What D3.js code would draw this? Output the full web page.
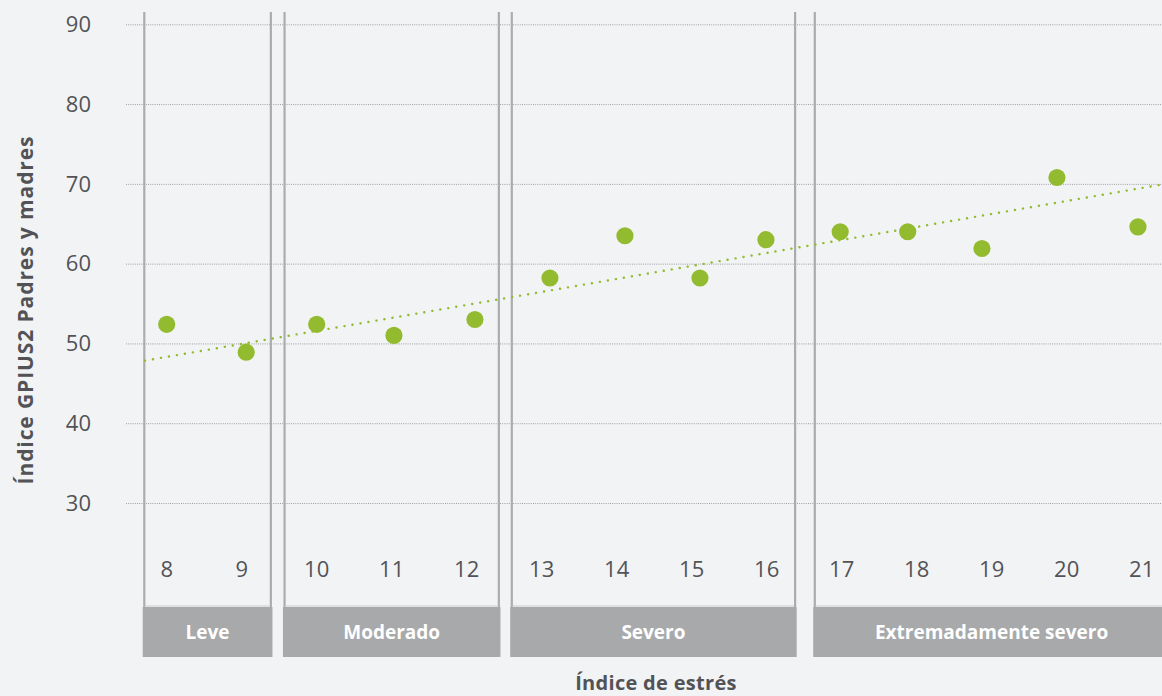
<!DOCTYPE html>
<html>
<head>
<meta charset="utf-8">
<script src="https://cdn.jsdelivr.net/npm/d3@7/dist/d3.min.js"></script>
<style>
  html, body { margin: 0; padding: 0; background: #f2f3f5; }
  svg { display: block; }
  text { font-family: "Open Sans", "Noto Sans", sans-serif; }
</style>
</head>
<body>
<svg id="chart" width="1162" height="696"></svg>
<script>
// ---- Data ----
const stressIndex = [8, 9, 10, 11, 12, 13, 14, 15, 16, 17, 18, 19, 20, 21];
// x positions of the points as plotted (slightly offset from the category ticks)
const pointX = [8.0, 9.06, 10.0, 11.03, 12.11, 13.11, 14.11, 15.11, 15.99, 16.98, 17.88, 18.87, 19.87, 20.95];
const gpiusValues = [52.4, 48.9, 52.4, 51.0, 53.0, 58.2, 63.5, 58.2, 63.0, 64.0, 64.0, 61.9, 70.8, 64.6];
const yTicks = [30, 40, 50, 60, 70, 80, 90];
const panelNames = ["Leve", "Moderado", "Severo", "Extremadamente severo"];
const panelStart = [7.68, 9.55, 12.58, 16.62];
const panelEnd = [9.41, 12.45, 16.40, 21.40];
const trendX = [7.71, 21.27];
const trendY = [47.84, 69.92];
const yTitle = "Índice GPIUS2 Padres y madres";
const xTitle = "Índice de estrés";

// ---- Layout ----
const svg = d3.select("#chart");
const x = d3.scaleLinear().domain([8, 21]).range([166.7, 1141.7]);
const y = d3.scaleLinear().domain([30, 90]).range([503, 24.3]);
const panelTop = 12;
const boxTop = 607, boxBottom = 657;
const gridLeft = 126, gridRight = 1162;

const green = "#93bb2f";
const textGray = "#525356";

// Gridlines
const yAxis = d3.axisLeft(y).tickValues(yTicks).tickSize(-(gridRight - gridLeft)).tickPadding(0).tickFormat("");
const gy = svg.append("g").attr("transform", `translate(${gridLeft},0)`).call(yAxis);
gy.select(".domain").remove();
gy.selectAll(".tick line")
  .attr("stroke", "#9c9ea1").attr("stroke-width", 1).attr("stroke-dasharray", "1 1.2");

// Y tick labels
svg.append("g").selectAll("text").data(yTicks).join("text")
  .attr("x", 91).attr("y", d => y(d))
  .attr("dy", "0.35em")
  .attr("text-anchor", "end")
  .attr("font-size", 22)
  .attr("fill", textGray)
  .text(d => d);

// Panels vertical lines
const pl = svg.append("g");
panelNames.forEach((n, i) => {
  const x0 = x(panelStart[i]), x1 = x(panelEnd[i]);
  pl.append("line").attr("x1", x0 + 1.6).attr("x2", x0 + 1.6).attr("y1", panelTop).attr("y2", boxTop)
    .attr("stroke", "#abacae").attr("stroke-width", 2.2);
  pl.append("line").attr("x1", x1 - 1.6).attr("x2", x1 - 1.6).attr("y1", panelTop).attr("y2", boxTop)
    .attr("stroke", "#abacae").attr("stroke-width", 2.2);
  pl.append("line").attr("x1", x0 + 2.7).attr("x2", x1 - 2.7).attr("y1", boxTop - 1).attr("y2", boxTop - 1)
    .attr("stroke", "#d9dadc").attr("stroke-width", 1.5);
});

// Header boxes
svg.append("g").selectAll("rect").data(panelNames).join("rect")
  .attr("x", (d, i) => x(panelStart[i]))
  .attr("width", (d, i) => x(panelEnd[i]) - x(panelStart[i]))
  .attr("y", boxTop).attr("height", boxBottom - boxTop)
  .attr("fill", "#a8a9ab");
svg.append("g").selectAll("text").data(panelNames).join("text")
  .attr("x", (d, i) => (x(panelStart[i]) + Math.min(x(panelEnd[i]), gridRight + 8)) / 2)
  .attr("y", (boxTop + boxBottom) / 2)
  .attr("dy", "0.35em")
  .attr("text-anchor", "middle")
  .attr("font-size", 19).attr("font-weight", "bold")
  .attr("fill", "#ffffff")
  .text(d => d);

// X tick labels
svg.append("g").selectAll("text").data(stressIndex).join("text")
  .attr("x", d => x(d)).attr("y", 569)
  .attr("dy", "0.35em")
  .attr("text-anchor", "middle")
  .attr("font-size", 22)
  .attr("fill", textGray)
  .text(d => d);

// Trend line (dotted)
const line = d3.line().x(d => x(d[0])).y(d => y(d[1]));
svg.append("path")
  .datum(trendX.map((v, i) => [v, trendY[i]]))
  .attr("d", line)
  .attr("fill", "none")
  .attr("stroke", green).attr("stroke-width", 2.4)
  .attr("stroke-linecap", "round")
  .attr("stroke-dasharray", "0.1 8");

// Points
svg.append("g").selectAll("circle").data(gpiusValues).join("circle")
  .attr("cx", (d, i) => x(pointX[i]))
  .attr("cy", d => y(d))
  .attr("r", 8.6)
  .attr("fill", green);

// Titles
svg.append("text")
  .attr("transform", `translate(33,${310}) rotate(-90)`)
  .attr("text-anchor", "middle")
  .attr("font-size", 21).attr("font-weight", "bold")
  .attr("letter-spacing", 0.9)
  .attr("fill", textGray)
  .text(yTitle);
svg.append("text")
  .attr("x", 656).attr("y", 683)
  .attr("dy", "0.35em")
  .attr("text-anchor", "middle")
  .attr("font-size", 20).attr("font-weight", "bold")
  .attr("letter-spacing", 0.3)
  .attr("fill", textGray)
  .text(xTitle);
</script>
</body>
</html>
